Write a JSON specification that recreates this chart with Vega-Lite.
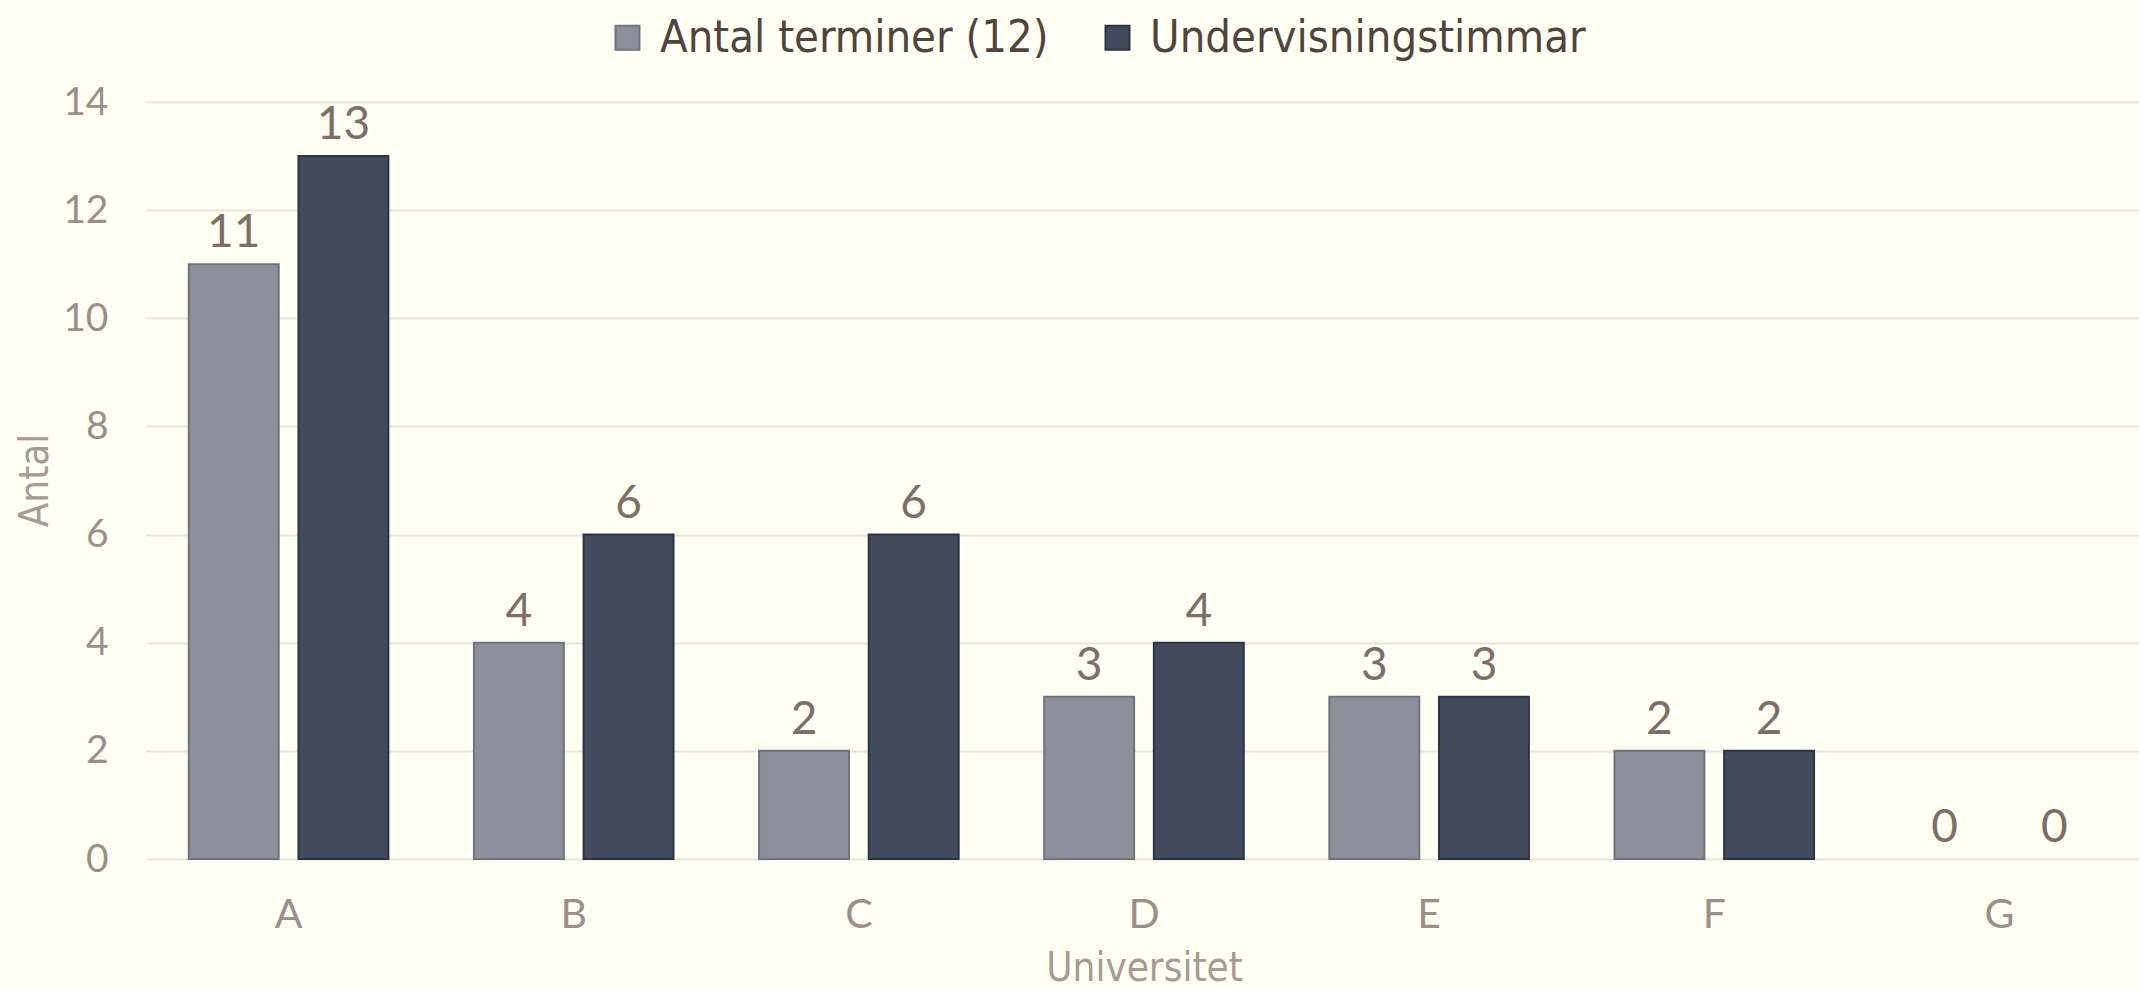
{
  "$schema": "https://vega.github.io/schema/vega-lite/v6.json",
  "autosize": "none",
  "width": 1996,
  "height": 757,
  "padding": {"left": 146, "top": 102, "right": 0, "bottom": 131},
  "background": "#fffff3",
  "config": {
    "view": {"stroke": null},
    "font": "Lato"
  },
  "data": {
    "values": [
      {"Universitet": "A", "serie": "Antal terminer (12)", "v": 11},
      {"Universitet": "A", "serie": "Undervisningstimmar", "v": 13},
      {"Universitet": "B", "serie": "Antal terminer (12)", "v": 4},
      {"Universitet": "B", "serie": "Undervisningstimmar", "v": 6},
      {"Universitet": "C", "serie": "Antal terminer (12)", "v": 2},
      {"Universitet": "C", "serie": "Undervisningstimmar", "v": 6},
      {"Universitet": "D", "serie": "Antal terminer (12)", "v": 3},
      {"Universitet": "D", "serie": "Undervisningstimmar", "v": 4},
      {"Universitet": "E", "serie": "Antal terminer (12)", "v": 3},
      {"Universitet": "E", "serie": "Undervisningstimmar", "v": 3},
      {"Universitet": "F", "serie": "Antal terminer (12)", "v": 2},
      {"Universitet": "F", "serie": "Undervisningstimmar", "v": 2},
      {"Universitet": "G", "serie": "Antal terminer (12)", "v": 0},
      {"Universitet": "G", "serie": "Undervisningstimmar", "v": 0}
    ]
  },
  "encoding": {
    "x": {
      "field": "Universitet", "type": "nominal",
      "scale": {"paddingInner": 0.3, "paddingOuter": 0.15},
      "axis": {
        "labelAngle": 0, "domain": false, "ticks": false,
        "labelPadding": 36, "labelFontSize": 41, "labelColor": "#9c8f89", "labelFont": "Lato",
        "titleFont": "DejaVu Sans Condensed", "titleFontSize": 40, "titleColor": "#a89a94", "titleFontWeight": "normal",
        "titleY": 89, "titleBaseline": "top"
      }
    },
    "xOffset": {"field": "serie", "type": "nominal", "scale": {"paddingInner": 0.18}},
    "y": {
      "field": "v", "type": "quantitative",
      "scale": {"domain": [0, 14]},
      "axis": {
        "title": "Antal", "values": [0, 2, 4, 6, 8, 10, 12, 14],
        "domain": false, "ticks": false, "gridColor": "#e6e5dc", "gridWidth": 2,
        "labelPadding": 38, "labelFontSize": 39, "labelColor": "#9c8f89", "labelFont": "Lato",
        "titleFont": "DejaVu Sans Condensed", "titleFontSize": 40, "titleColor": "#a89a94", "titleFontWeight": "normal",
        "titleX": -111, "titleY": 378, "titleAngle": -90, "titleBaseline": "middle", "titleAlign": "center"
      }
    }
  },
  "layer": [
    {
      "transform": [{"filter": "datum.v > 0"}],
      "mark": {"type": "bar", "strokeWidth": 2},
      "encoding": {
        "color": {
          "field": "serie", "type": "nominal",
          "scale": {"domain": ["Antal terminer (12)", "Undervisningstimmar"], "range": ["#8c909a", "#414b5d"]},
          "legend": {
            "title": null, "orient": "none", "direction": "horizontal",
            "legendX": 459, "legendY": -87, "padding": 0,
            "symbolType": "square", "symbolSize": 576, "symbolStrokeWidth": 2, "symbolStrokeColor": "#555a63",
            "labelFont": "DejaVu Sans Condensed", "labelFontSize": 45, "labelColor": "#50443e",
            "labelOffset": 10, "columnPadding": 46, "labelLimit": 600
          }
        },
        "stroke": {
          "field": "serie", "type": "nominal",
          "scale": {"domain": ["Antal terminer (12)", "Undervisningstimmar"], "range": ["#6f737c", "#2c3442"]},
          "legend": null
        }
      }
    },
    {
      "mark": {"type": "text", "dy": -17, "baseline": "alphabetic", "fontSize": 46, "color": "#7d6f68", "font": "Lato"},
      "encoding": {"text": {"field": "v", "type": "quantitative"}}
    }
  ]
}
